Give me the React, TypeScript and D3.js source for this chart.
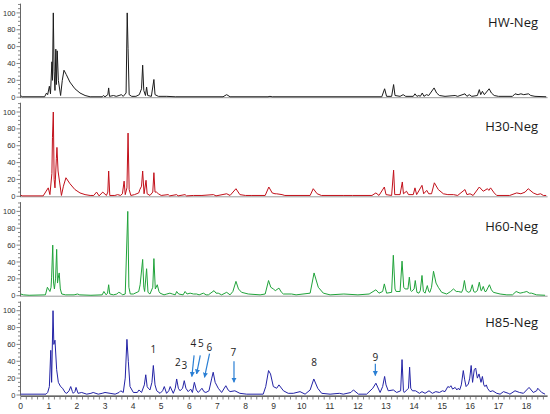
import React from 'react';
import * as d3 from 'd3';

type Pt = [number, number];

// Retention time (min), relative abundance (%)
const hwNeg: Pt[] = [[0,2],[0.05,0.5],[0.85,0.5],[0.92,5],[0.96,3],[1.02,13],[1.06,4],[1.11,42],[1.13,20],[1.16,100],[1.19,30],[1.22,8],[1.25,57],[1.27,15],[1.30,55],[1.34,20],[1.42,2],[1.48,20],[1.54,32],[1.62,27],[1.75,18],[1.93,10],[2.11,5],[2.29,2],[2.47,0.5],[2.9,0.5],[2.94,2],[3.0,0.5],[3.1,3],[3.13,11],[3.16,1],[3.3,2],[3.4,1],[3.5,2],[3.58,3],[3.65,1],[3.75,5],[3.79,100],[3.82,58],[3.86,3],[3.95,1],[4.1,1],[4.22,3],[4.3,10],[4.34,38],[4.38,8],[4.44,2],[4.48,12],[4.52,2],[4.65,1],[4.74,21],[4.78,3],[4.9,1],[5.2,1],[5.5,0.5],[7.2,0.5],[7.33,3],[7.45,0.5],[8.8,0.5],[8.87,1],[8.95,0.5],[12.85,0.5],[12.95,10],[13.02,1],[13.2,1],[13.27,15],[13.32,2],[13.5,1],[13.61,3],[13.7,1],[13.97,1],[14.03,4],[14.1,1],[14.17,2],[14.22,1],[14.29,5],[14.35,1],[14.44,3],[14.52,2],[14.71,11],[14.8,5],[14.9,2],[15.1,1],[15.46,2],[15.55,1],[15.81,4],[15.88,1],[15.96,3],[16.05,1],[16.25,2],[16.32,9],[16.37,3],[16.43,7],[16.5,3],[16.67,10],[16.75,5],[16.85,2],[17.0,1],[17.5,1],[17.59,4],[17.7,3],[17.8,4],[17.9,3],[18.07,4],[18.15,2],[18.3,1],[18.7,0.5]];

const h30Neg: Pt[] = [[0,1.5],[0.05,0.5],[0.8,0.5],[0.98,10],[1.04,2],[1.11,27],[1.13,70],[1.16,100],[1.19,20],[1.22,10],[1.27,45],[1.29,58],[1.33,30],[1.45,1],[1.52,12],[1.61,22],[1.75,15],[1.93,8],[2.11,4],[2.29,2],[2.47,1],[2.6,1],[2.70,5],[2.79,0.5],[2.92,5],[3.05,1],[3.10,5],[3.13,30],[3.17,1],[3.35,1],[3.45,2],[3.55,1],[3.62,3],[3.68,18],[3.72,2],[3.78,10],[3.82,75],[3.86,8],[3.92,1],[4.05,2],[4.2,4],[4.24,8],[4.30,12],[4.34,30],[4.39,3],[4.46,19],[4.50,3],[4.60,1],[4.70,5],[4.74,28],[4.78,5],[4.83,5],[4.90,3],[5.0,1],[5.25,2],[5.3,0.5],[5.55,2],[5.6,0.5],[5.85,2],[5.9,0.5],[6.15,1],[6.45,1],[6.86,2],[6.95,0.5],[7.33,3],[7.45,1],[7.66,9],[7.8,2],[8.0,1],[8.2,1],[8.7,1],[8.83,11],[8.95,4],[9.05,3],[9.1,3],[9.3,2],[9.4,1],[10.3,1],[10.41,9],[10.55,3],[10.7,1],[11.5,1],[11.8,1],[12.5,1],[12.64,4],[12.75,1],[12.94,11],[13.0,2],[13.2,1],[13.27,31],[13.31,2],[13.5,2],[13.58,17],[13.62,3],[13.73,6],[13.8,2],[13.97,2],[14.03,10],[14.09,2],[14.28,13],[14.34,3],[14.45,7],[14.52,3],[14.62,3],[14.72,16],[14.86,8],[15.04,3],[15.2,2],[15.4,2],[15.55,1],[15.81,8],[15.88,2],[15.99,3],[16.1,1],[16.32,11],[16.46,6],[16.61,9],[16.66,7],[16.72,10],[16.85,4],[16.94,1],[17.4,1],[17.65,4],[17.8,3],[17.95,5],[18.06,9],[18.24,4],[18.38,2],[18.5,3],[18.6,1],[18.7,1]];

const h60Neg: Pt[] = [[0,2],[0.1,1],[0.3,0.5],[0.88,1],[0.95,10],[1.04,5],[1.08,10],[1.10,22],[1.14,60],[1.17,15],[1.20,8],[1.24,20],[1.28,55],[1.31,15],[1.33,20],[1.37,27],[1.41,8],[1.46,2],[1.6,1],[1.9,1],[2.02,2],[2.1,1],[2.5,0.5],[2.9,1],[2.96,5],[3.04,1],[3.09,3],[3.13,13],[3.17,2],[3.30,1],[3.42,2],[3.49,4],[3.56,3],[3.62,1],[3.72,2],[3.81,100],[3.85,10],[3.9,2],[4.01,2],[4.2,5],[4.25,13],[4.34,43],[4.38,10],[4.41,5],[4.48,32],[4.53,4],[4.60,2],[4.70,10],[4.74,44],[4.79,8],[4.86,13],[4.92,5],[4.96,3],[5.1,1],[5.2,2],[5.31,3],[5.4,2],[5.5,1],[5.55,5],[5.62,2],[5.78,1],[5.85,5],[5.92,2],[6.03,3],[6.15,2],[6.26,2],[6.35,1],[6.5,3],[6.6,1],[6.68,1],[6.88,6],[6.95,3],[7.03,3],[7.15,1],[7.33,4],[7.45,1],[7.55,5],[7.66,17],[7.75,8],[7.86,4],[8.1,2],[8.52,1],[8.7,2],[8.82,18],[8.9,10],[8.99,8],[9.06,6],[9.19,9],[9.28,4],[9.35,2],[9.64,2],[9.8,1],[10.3,3],[10.44,27],[10.59,10],[10.77,3],[11.01,1],[11.5,2],[12.0,1],[12.4,2],[12.64,7],[12.75,3],[12.88,5],[12.94,14],[13.02,3],[13.2,4],[13.26,48],[13.32,8],[13.36,5],[13.5,5],[13.57,41],[13.63,10],[13.68,8],[13.78,8],[13.83,22],[13.88,6],[13.91,5],[14.0,8],[14.04,18],[14.1,4],[14.17,3],[14.22,6],[14.28,24],[14.33,5],[14.39,3],[14.47,12],[14.52,5],[14.56,4],[14.62,10],[14.69,29],[14.78,15],[14.86,10],[14.98,4],[15.16,2],[15.3,5],[15.40,8],[15.5,5],[15.57,5],[15.69,4],[15.74,8],[15.79,18],[15.85,6],[15.93,4],[16.0,5],[16.07,13],[16.12,5],[16.17,4],[16.25,6],[16.32,16],[16.38,6],[16.40,6],[16.46,11],[16.52,5],[16.56,5],[16.68,13],[16.75,7],[16.82,4],[17.06,2],[17.3,1],[17.5,1],[17.63,5],[17.77,3],[17.9,4],[18.01,5],[18.1,3],[18.18,3],[18.36,1],[18.66,0.5]];

const h85Neg: Pt[] = [[0,1],[0.9,1],[0.96,3],[1.02,10],[1.07,53],[1.1,15],[1.15,100],[1.18,60],[1.22,65],[1.28,30],[1.34,15],[1.42,10],[1.49,8],[1.58,3],[1.64,2],[1.72,5],[1.78,10],[1.84,4],[1.87,2],[1.93,4],[1.97,9],[2.04,2],[2.17,3],[2.35,1],[2.5,2],[2.58,3],[2.76,1],[2.9,2],[3.0,3],[3.18,2],[3.36,1],[3.5,3],[3.56,5],[3.65,3],[3.72,20],[3.78,66],[3.83,40],[3.89,10],[4.01,3],[4.15,3],[4.21,6],[4.3,3],[4.4,12],[4.45,24],[4.5,10],[4.54,8],[4.6,6],[4.67,15],[4.72,35],[4.78,12],[4.84,5],[4.96,2],[5.05,5],[5.11,10],[5.19,2],[5.27,5],[5.32,10],[5.43,2],[5.5,8],[5.55,19],[5.61,8],[5.67,5],[5.76,8],[5.82,17],[5.88,8],[5.96,4],[6.05,7],[6.11,3],[6.18,15],[6.25,6],[6.32,3],[6.45,8],[6.52,4],[6.59,3],[6.7,5],[6.8,20],[6.85,27],[6.92,15],[7.03,8],[7.15,3],[7.3,11],[7.38,6],[7.45,4],[7.62,5],[7.8,2],[8.04,1],[8.63,1],[8.72,10],[8.82,29],[8.89,25],[8.99,10],[9.11,8],[9.19,12],[9.35,5],[9.52,2],[9.70,2],[9.94,4],[10.12,1],[10.3,6],[10.43,19],[10.57,8],[10.71,2],[11.01,1],[11.34,2],[11.48,1],[11.75,3],[11.84,6],[12.02,1],[12.31,1],[12.53,8],[12.64,14],[12.79,3],[12.88,10],[12.95,22],[13.0,12],[13.08,5],[13.26,6],[13.38,3],[13.52,5],[13.57,42],[13.62,5],[13.65,3],[13.8,8],[13.84,33],[13.88,8],[13.94,5],[14.05,5],[14.19,2],[14.28,4],[14.39,2],[14.53,5],[14.65,2],[14.77,4],[14.9,3],[15.01,5],[15.1,4],[15.2,10],[15.26,9],[15.31,11],[15.37,7],[15.46,9],[15.52,6],[15.57,8],[15.62,6],[15.68,12],[15.75,29],[15.8,18],[15.85,10],[15.93,13],[15.98,20],[16.03,35],[16.08,15],[16.14,30],[16.19,32],[16.25,20],[16.31,25],[16.38,15],[16.43,22],[16.48,12],[16.52,10],[16.57,12],[16.61,8],[16.7,4],[16.8,5],[16.94,2],[17.06,1],[17.18,4],[17.35,2],[17.41,1],[17.59,5],[17.75,3],[17.89,2],[18.09,9],[18.24,3],[18.36,5],[18.4,8],[18.54,3],[18.66,1]];

const panelSeries: Pt[][] = [hwNeg, h30Neg, h60Neg, h85Neg];
const panelNames = ['HW-Neg', 'H30-Neg', 'H60-Neg', 'H85-Neg'];
const panelColors = ['#1c1c1c', '#c2101a', '#20a33a', '#2323a6'];

const yTickLabels = [0, 20, 40, 60, 80, 100];
const xTickLabels = [0, 1, 2, 3, 4, 5, 6, 7, 8, 9, 10, 11, 12, 13, 14, 15, 16, 17, 18];

// Peak annotations on H85-Neg (time, level)
const annoLabels = ['1', '2', '3', '4', '5', '6', '7', '8', '9'];
const annoTimes = [4.72, 5.59, 5.82, 6.14, 6.41, 6.71, 7.57, 10.44, 12.62];
const annoLevels = [54, 39, 35, 61, 61, 56, 50, 38, 45];
// arrows: [fromTime, fromLevel, toTime, toLevel]
const arrows: [number, number, number, number][] = [
  [6.17, 47, 6.09, 22],
  [6.39, 47, 6.26, 25],
  [6.72, 49, 6.54, 21],
  [7.59, 40, 7.59, 15],
  [12.62, 37, 12.62, 23],
];

export default function App() {
  const W = 550, H = 414;
  const x = d3.scaleLinear().domain([0, 18.75]).range([20.7, 547.6]);
  const zeros = [97.2, 196.3, 295.7, 395.0];
  const unit = 84.3;
  const yScales = zeros.map((z) => d3.scaleLinear().domain([0, 100]).range([z, z - unit]));
  const titleY = [26.5, 131, 231, 327];
  const minor = d3.range(0, 111, 5);
  const xMinor = d3.range(0, 18.61, 0.2);
  const font = '"Liberation Sans", Arial, sans-serif';
  const titleFont = '"Open Sans", "Noto Sans", sans-serif';
  const y4 = yScales[3];
  const arrowColor = '#2a7fd4';

  return (
    <svg width={W} height={H} style={{ position: 'absolute', left: 0, top: 0, background: '#fff' }}>
      <defs>
        <marker id="ah" viewBox="0 0 10 10" refX="9" refY="5" markerWidth="5" markerHeight="6" orient="auto" markerUnits="userSpaceOnUse">
          <path d="M0,0 L10,5 L0,10 z" fill={arrowColor} />
        </marker>
      </defs>
      {panelSeries.map((data, i) => {
        const y = yScales[i];
        const line = d3.line<Pt>().x((d) => x(d[0])).y((d) => y(d[1]));
        return (
          <g key={i}>
            <line x1={x(0)} x2={x(18.75)} y1={y(0) + 0.5} y2={y(0) + 0.5} stroke="#9a9a9a" strokeWidth={1} />
            <line x1={20.5} x2={20.5} y1={y(-1)} y2={y(111)} stroke="#666" strokeWidth={1} />
            {minor.map((v) => (
              <line key={v} x1={v % 20 === 0 ? 16.5 : 18} x2={20.5} y1={y(v)} y2={y(v)} stroke="#666" strokeWidth={0.8} />
            ))}
            {yTickLabels.map((v) => (
              <text key={v} x={15.5} y={y(v)} dy="0.35em" textAnchor="end" fontFamily={font} fontSize={7.5} fill="#333">{v}</text>
            ))}
            <path d={line(data) || ''} fill="none" stroke={panelColors[i]} strokeWidth={1} strokeLinejoin="round" />
            <text x={538} y={titleY[i]} textAnchor="end" fontFamily={titleFont} fontSize={13} fill="#1a1a1a">{panelNames[i]}</text>
          </g>
        );
      })}
      {/* x axis */}
      <line x1={x(0)} x2={x(18.75)} y1={396.5} y2={396.5} stroke="#666" strokeWidth={1} />
      {xMinor.map((t, k) => (
        <line key={k} x1={x(t)} x2={x(t)} y1={396.5} y2={399.5} stroke="#666" strokeWidth={0.8} />
      ))}
      {xTickLabels.map((t) => (
        <text key={t} x={x(t)} y={408.5} textAnchor="middle" fontFamily={font} fontSize={8.5} fill="#333">{t}</text>
      ))}
      {/* annotations */}
      {annoLabels.map((l, k) => (
        <text key={l} x={x(annoTimes[k])} y={y4(annoLevels[k])} dy="0.35em" textAnchor="middle" fontFamily={titleFont} fontSize={10} fill="#222">{l}</text>
      ))}
      {arrows.map((a, k) => (
        <line key={k} x1={x(a[0])} y1={y4(a[1])} x2={x(a[2])} y2={y4(a[3])} stroke={arrowColor} strokeWidth={1.2} markerEnd="url(#ah)" />
      ))}
    </svg>
  );
}
